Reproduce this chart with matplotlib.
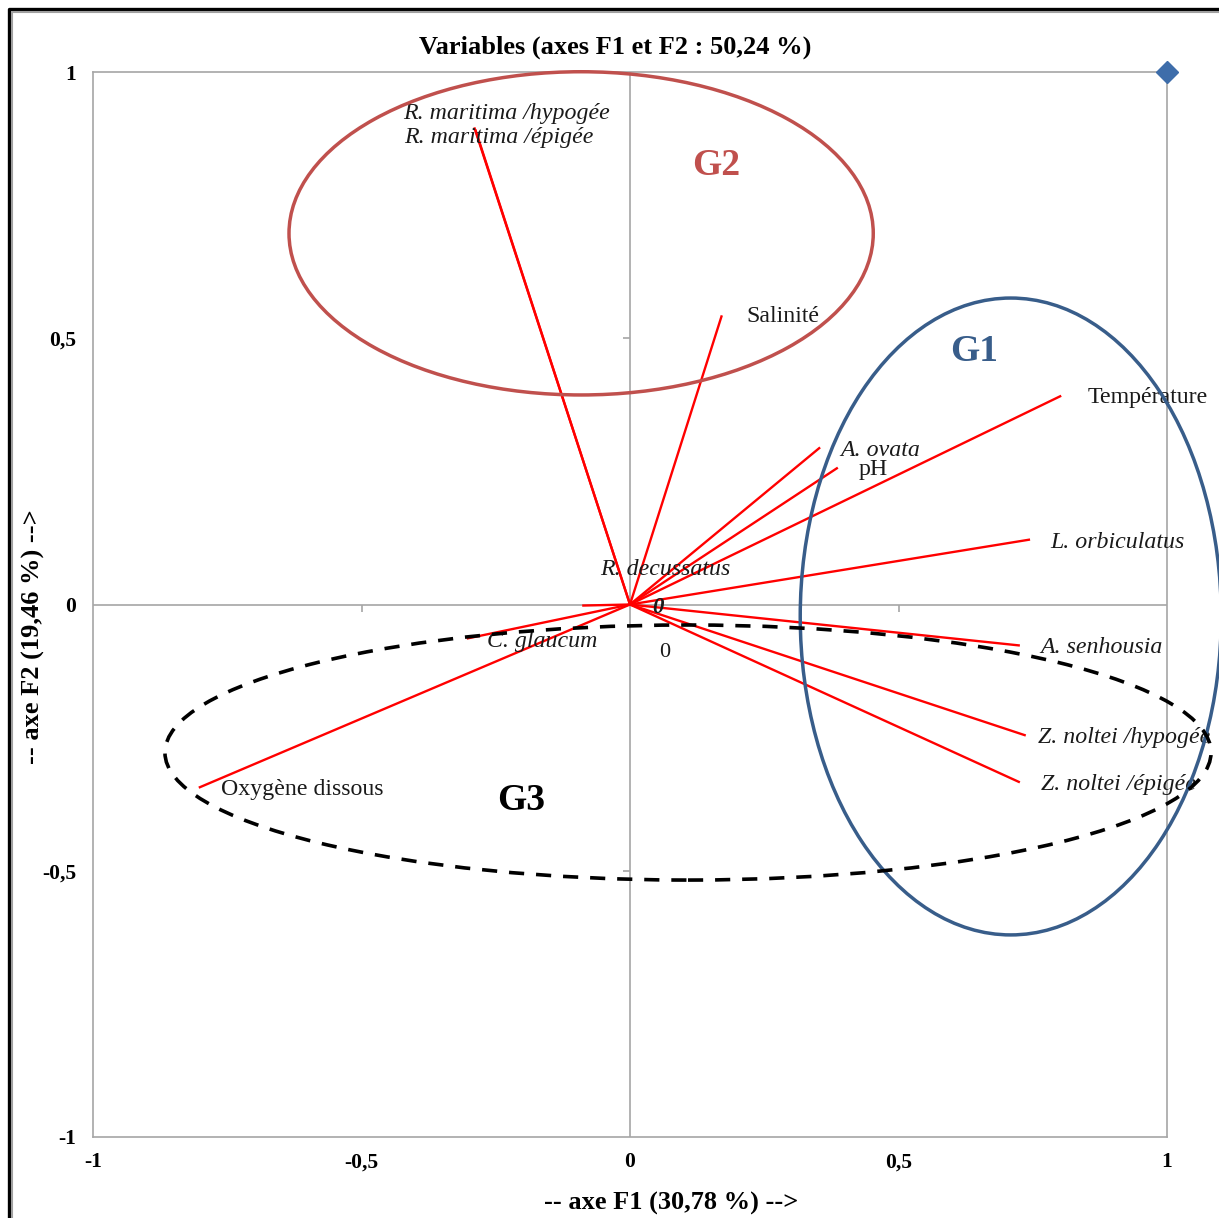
import numpy as np
import matplotlib
matplotlib.use("Agg")
import matplotlib.pyplot as plt
from matplotlib.patches import Ellipse
from matplotlib.lines import Line2D

plt.rcParams['font.family'] = ['Liberation Serif', 'DejaVu Serif']

# Correlation circle: variable coordinates on F1 / F2
variables = ["R. maritima /hypogée", "R. maritima /épigée", "Salinité", "Température",
             "A. ovata", "pH", "L. orbiculatus", "R. decussatus", "C. glaucum",
             "A. senhousia", "Z. noltei /hypogée", "Z. noltei /épigée", "Oxygène dissous"]
f1 = [-0.290, -0.288, 0.171, 0.803, 0.354, 0.387, 0.745, -0.089, -0.304,
      0.726, 0.737, 0.726, -0.803]
f2 = [0.896, 0.892, 0.543, 0.392, 0.295, 0.257, 0.122, -0.002, -0.064,
      -0.077, -0.246, -0.334, -0.344]
italic = [True, True, False, False, True, False, True, True, True,
          True, True, True, False]
# label offsets from the vector tip, in pixels
label_dx = [-71, -71, 25, 26, 20, 21, 20, 18, 20, 20, 12, 21, 22]
label_dy = [14, -8, -1, -2, -3, -2, -3, 36, -3, -2, -2, -2, -2]

ticks = [-1, -0.5, 0, 0.5, 1]
tick_labels = ["-1", "-0,5", "0", "0,5", "1"]

# Groups of variables (centre x, centre y, width, height)
groups = ["G1", "G2", "G3"]
group_center = [(0.709, -0.0225), (-0.091, 0.697), (0.108, -0.278)]
group_size = [(0.784, 1.196), (1.088, 0.607), (1.948, 0.479)]
group_color = ["#385D8A", "#C0504D", "#000000"]
group_text_pos = [(0.641, 0.475), (0.160, 0.824), (-0.203, -0.369)]

W, H = 1219, 1218
fig = plt.figure(figsize=(W / 100, H / 100), dpi=100)
ax = fig.add_axes([93 / W, 1 - 1137 / H, (1167 - 93) / W, (1137 - 72) / H])
ax.set_xlim(-1, 1)
ax.set_ylim(-1, 1)

for s in ax.spines.values():
    s.set_color("#A6A6A6")
    s.set_linewidth(1.2)

ax.set_xticks(ticks)
ax.set_xticklabels(tick_labels)
ax.set_yticks(ticks)
ax.set_yticklabels(tick_labels)
ax.tick_params(length=0, labelsize=15.5)
ax.tick_params(axis="y", pad=12)
ax.tick_params(axis="x", pad=11)
for lab in ax.get_xticklabels() + ax.get_yticklabels():
    lab.set_fontweight("bold")

# zero axes with small tick marks
ax.axhline(0, color="#A6A6A6", lw=1.2, zorder=1)
ax.axvline(0, color="#A6A6A6", lw=1.2, zorder=1)
half = [-0.5, 0.5]
ax.plot([0] * len(half), half, ls="none", marker=0, ms=5, color="#A6A6A6", mew=1.2)
ax.plot(half, [0] * len(half), ls="none", marker=3, ms=5, color="#A6A6A6", mew=1.2)

# variable vectors
for name, x, y, it, dx, dy in zip(variables, f1, f2, italic, label_dx, label_dy):
    ax.plot([0, x], [0, y], color="#FF0000", lw=1.7, zorder=3, solid_capstyle="butt")
    ax.annotate(name, (x, y), xytext=(dx, dy), textcoords="offset pixels",
                ha="left", va="center", fontsize=17.2, color="#1A1A1A",
                style="italic" if it else "normal", zorder=4, annotation_clip=False)

ax.annotate("0", (0, 0), xytext=(28, -3), textcoords="offset pixels", ha="center",
            va="center", fontsize=16.5, fontweight="bold", style="italic", color="#1A1A1A")
ax.annotate("0", (0, 0), xytext=(35, -48), textcoords="offset pixels", ha="center",
            va="center", fontsize=16, color="#1A1A1A")

# group ellipses
for g, c, sz, col, tp in zip(groups, group_center, group_size, group_color, group_text_pos):
    e = Ellipse(c, sz[0], sz[1], fill=False, edgecolor=col, clip_on=False, zorder=5)
    if g == "G3":
        e.set_linewidth(2.6)
        e.set_linestyle((0, (4.2, 3.3)))
    else:
        e.set_linewidth(2.5)
    ax.add_patch(e)
    ax.text(tp[0], tp[1], g, color=col, fontsize=27, fontweight="bold",
            ha="center", va="center", zorder=6)

# corner marker
ax.plot([1], [1], marker="D", ms=11.5, color="#3E6DAA", clip_on=False, zorder=7)

fig.text(615 / W, 1 - 47 / H, "Variables (axes F1 et F2 : 50,24 %)", ha="center",
         va="center", fontsize=19, fontweight="bold")
fig.text(671 / W, 1 - 1203 / H, "-- axe F1 (30,78 %) -->", ha="center", va="center",
         fontsize=19, fontweight="bold")
fig.text(33 / W, 1 - 637 / H, "-- axe F2 (19,46 %) -->", ha="center", va="center",
         fontsize=19, fontweight="bold", rotation=90)

# outer frame
fig.add_artist(Line2D([8.5 / W, 8.5 / W, 1], [0, 1 - 8.5 / H, 1 - 8.5 / H],
                      transform=fig.transFigure, color="black", lw=2.4))
fig.add_artist(Line2D([11.5 / W, 11.5 / W, 1], [0, 1 - 11.5 / H, 1 - 11.5 / H],
                      transform=fig.transFigure, color="#A0A0A0", lw=1.5))

fig.savefig("out.png", dpi=100)
